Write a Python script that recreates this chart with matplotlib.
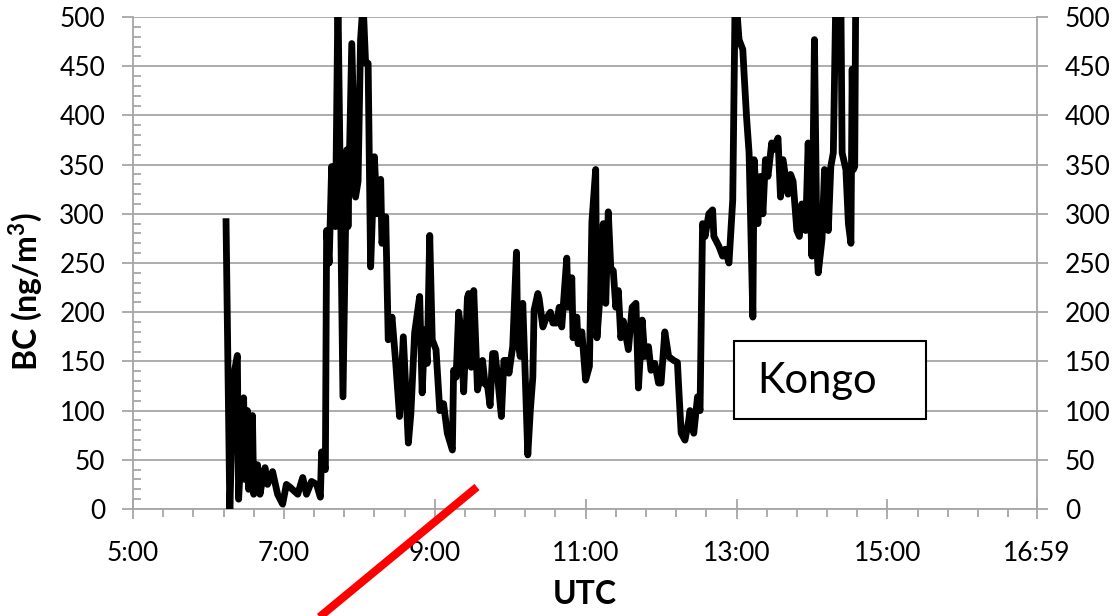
import numpy as np
import matplotlib.pyplot as plt
from matplotlib.lines import Line2D
from matplotlib.patches import Rectangle

# время UTC, минуты от полуночи
minutes = [374, 377, 380, 383, 384, 388, 389, 391, 392, 395, 396, 399, 401, 403, 405,
           407, 411, 415, 419, 422, 425, 431, 435, 438, 442, 446, 449, 450, 453, 454,
           456, 458, 461, 463, 467, 470, 471, 474, 477, 479, 481, 483, 485, 487, 489,
           492, 494, 497, 498, 501, 503, 506, 509, 512, 515, 519, 521, 524, 528, 530,
           532, 534, 536, 538, 541, 544, 547, 550, 554, 555, 557, 559, 561, 563, 566,
           567, 569, 571, 574, 575, 578, 580, 582, 584, 586, 588, 590, 593, 595, 598,
           599, 602, 605, 606, 608, 610, 612, 614, 616, 618, 619, 622, 623, 626, 628,
           632, 634, 637, 639, 641, 645, 646, 649, 650, 653, 654, 657, 660, 663, 665,
           668, 669, 671, 674, 676, 678, 680, 682, 684, 686, 688, 690, 694, 697, 700,
           702, 705, 707, 710, 712, 715, 718, 720, 723, 726, 730, 733, 734, 736, 739,
           742, 743, 746, 749, 751, 753, 755, 758, 761, 762, 766, 769, 771, 774, 777,
           778, 779, 782, 785, 786, 788, 790, 793, 794, 797, 799, 801, 803, 805, 808,
           809, 813, 815, 817, 821, 823, 825, 828, 830, 832, 835, 837, 840, 842, 844,
           845, 848, 850, 853, 855, 857, 859, 861, 863, 864, 867, 869, 871, 872, 873,
           874, 875]
bc = [292, 0, 135, 156, 10, 113, 30, 100, 20, 95, 15, 45, 15, 30, 42,
      25, 38, 15, 5, 25, 22, 15, 32, 15, 28, 25, 12, 58, 40, 283,
      250, 348, 287, 520, 114, 365, 287, 473, 317, 333, 477, 515, 453, 453, 246,
      358, 300, 335, 270, 297, 172, 195, 148, 94, 175, 67, 97, 179, 216, 118,
      182, 148, 278, 172, 162, 100, 107, 77, 60, 141, 134, 200, 180, 119, 215,
      219, 144, 222, 121, 127, 151, 127, 125, 105, 158, 158, 134, 94, 151, 151,
      138, 165, 261, 172, 155, 209, 134, 55, 100, 134, 202, 219, 214, 185, 192,
      200, 189, 189, 205, 185, 255, 205, 235, 174, 195, 168, 180, 131, 145, 292,
      345, 174, 209, 290, 209, 302, 245, 242, 205, 222, 174, 191, 162, 205, 209,
      123, 192, 155, 165, 141, 148, 128, 128, 180, 155, 151, 149, 124, 77, 70,
      90, 100, 77, 114, 100, 290, 277, 300, 304, 277, 267, 257, 264, 250, 314,
      423, 530, 477, 467, 443, 398, 362, 195, 355, 290, 338, 300, 355, 338, 372,
      365, 377, 317, 355, 320, 340, 333, 283, 277, 310, 283, 372, 257, 477, 264,
      240, 274, 345, 283, 348, 362, 520, 470, 520, 362, 345, 290, 270, 447, 345,
      348, 560]

tick_hours = [5, 7, 9, 11, 13, 15, 16 + 59 / 60]
tick_labels = ['5:00', '7:00', '9:00', '11:00', '13:00', '15:00', '16:59']
y_ticks = list(range(0, 501, 50))

plt.rcParams['font.family'] = ['Lato', 'DejaVu Sans']
grey = '#a6a6a6'

fig = plt.figure(figsize=(11.19, 6.16), dpi=100)
ax = fig.add_axes([133 / 1119, 1 - 509 / 616, 904 / 1119, 492 / 616])

hours = np.array(minutes) / 60.0
ax.plot(hours, bc, color='black', lw=4.9, solid_joinstyle='round', zorder=3)

ax.set_xlim(5, 16 + 59 / 60)
ax.set_ylim(0, 500)
ax.set_xticks(tick_hours)
ax.set_xticklabels(tick_labels)
ax.set_xticks(np.arange(5, 17, 0.4), minor=True)
ax.set_yticks(y_ticks)
ax.set_yticks(range(0, 501, 10), minor=True)

ax.grid(axis='y', color=grey, lw=1.3)
ax.set_axisbelow(True)
for s in ['left', 'bottom', 'right']:
    ax.spines[s].set_color(grey)
    ax.spines[s].set_linewidth(1.3)
ax.spines['top'].set_visible(False)

ax.tick_params(axis='x', which='major', direction='inout', length=14, width=1.3,
               color=grey, labelsize=19, pad=16)
ax.tick_params(axis='x', which='minor', direction='out', length=6, width=1.3, color=grey)
ax.tick_params(axis='y', which='major', direction='out', length=8, width=1.3,
               color=grey, labelsize=19, pad=12)
ax.tick_params(axis='y', which='minor', direction='in', length=6, width=1.3, color=grey)

ax2 = ax.twinx()
ax2.set_ylim(0, 500)
ax2.set_yticks(y_ticks)
for s in ['left', 'bottom', 'right', 'top']:
    ax2.spines[s].set_visible(False)
ax2.tick_params(axis='y', direction='out', length=8, width=1.3, color=grey,
                labelsize=19, pad=12)

ax.set_xlabel('UTC', fontsize=23, fontweight='bold', labelpad=10)
ax.set_ylabel('BC (ng/m$^\\mathregular{3}$)', fontsize=23, fontweight='bold')
ax.yaxis.set_label_coords(-0.097, 0.443)

# подпись региона
fig.patches.append(Rectangle((734 / 1119, 1 - 419 / 616), 192 / 1119, 78 / 616,
                             transform=fig.transFigure, facecolor='white',
                             edgecolor='black', lw=1.5, zorder=5))
fig.text(757 / 1119, 1 - 381 / 616, 'Kongo', fontsize=30, va='center', ha='left', zorder=6)

# красная линия
fig.lines.append(Line2D([317 / 1119, 477 / 1119], [-0.005, 1 - 487 / 616],
                        transform=fig.transFigure, color='red', lw=5.8,
                        solid_capstyle='butt', zorder=10))

fig.savefig('out.png', dpi=100)
